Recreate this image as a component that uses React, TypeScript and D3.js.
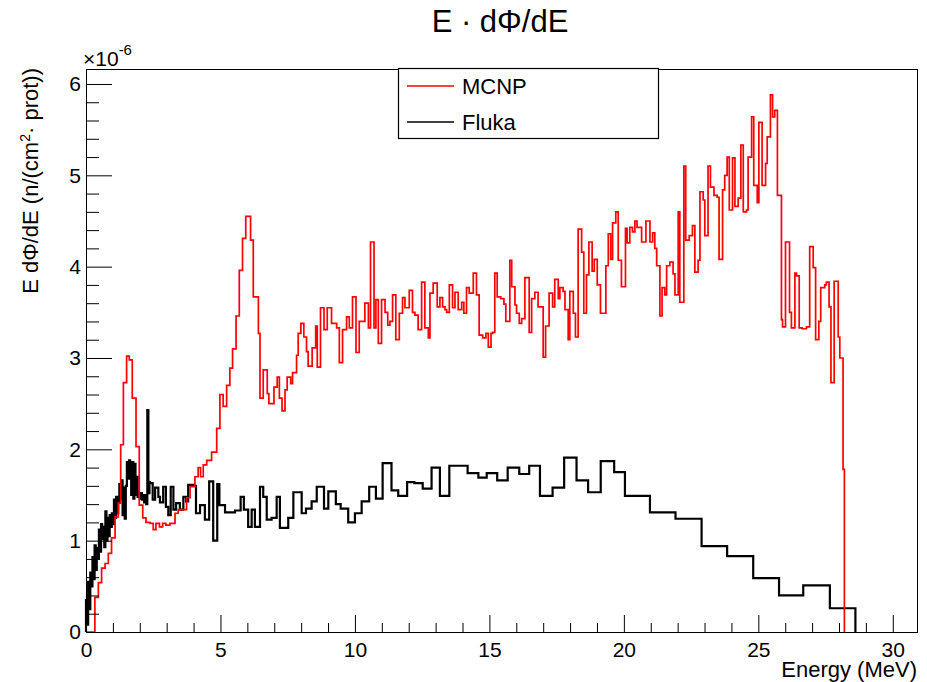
import React, { useEffect, useRef } from "react";
import * as d3 from "d3";

// [lower bin edge (MeV), E dPhi/dE (x1e-6 n/(cm2 prot))]
const mcnp: [number, number][] = [
    [0.00, 0], [0.33, 0.38], [0.46, 0.54], [0.58, 0.70], [0.71, 0.75], [0.83, 0.86], [0.95, 1.03], [1.08, 1.26],
    [1.20, 1.41], [1.29, 2.05], [1.39, 2.73], [1.51, 3.02], [1.61, 2.98], [1.72, 2.56], [1.86, 2.03], [1.98, 1.39],
    [2.11, 1.25], [2.23, 1.20], [2.38, 1.19], [2.50, 1.12], [2.60, 1.19], [2.73, 1.15], [2.85, 1.19], [2.97, 1.17],
    [3.12, 1.19], [3.31, 1.30], [3.43, 1.34], [3.74, 1.47], [3.87, 1.59], [4.05, 1.70], [4.17, 1.80], [4.26, 1.70],
    [4.36, 1.83], [4.49, 1.88], [4.67, 1.97], [4.86, 2.23], [4.98, 2.60], [5.10, 2.47], [5.23, 2.70], [5.35, 2.89],
    [5.45, 3.10], [5.58, 3.46], [5.70, 3.96], [5.82, 4.31], [5.94, 4.55], [6.12, 4.29], [6.22, 3.67], [6.41, 3.27],
    [6.47, 2.56], [6.59, 2.87], [6.74, 2.61], [6.80, 2.50], [6.99, 2.68], [7.11, 2.79], [7.19, 2.56], [7.29, 2.42],
    [7.40, 2.65], [7.48, 2.79], [7.61, 2.72], [7.68, 2.84], [7.83, 3.03], [7.89, 3.27], [7.99, 3.38], [8.10, 3.23],
    [8.20, 3.07], [8.26, 2.91], [8.41, 3.11], [8.54, 3.35], [8.60, 2.90], [8.72, 3.55], [8.85, 3.31], [8.97, 3.55],
    [9.13, 3.38], [9.32, 3.33], [9.42, 2.95], [9.54, 3.31], [9.69, 3.45], [9.79, 3.33], [9.91, 3.67], [10.04, 3.06],
    [10.16, 3.40], [10.37, 3.60], [10.50, 3.33], [10.58, 4.27], [10.71, 3.33], [10.78, 3.64], [10.87, 3.16], [10.99, 3.64],
    [11.12, 3.50], [11.22, 3.36], [11.30, 3.40], [11.40, 3.69], [11.52, 3.20], [11.65, 3.49], [11.77, 3.66], [11.86, 3.55],
    [12.02, 3.74], [12.14, 3.50], [12.23, 3.47], [12.35, 3.31], [12.48, 3.83], [12.60, 3.33], [12.73, 3.22], [12.79, 3.71],
    [12.91, 3.82], [13.06, 3.56], [13.16, 3.66], [13.26, 3.56], [13.35, 3.53], [13.41, 3.50], [13.51, 3.80], [13.63, 3.55],
    [13.72, 3.72], [13.84, 3.53], [13.97, 3.61], [14.05, 3.49], [14.15, 3.77], [14.25, 3.71], [14.40, 3.93], [14.52, 3.69],
    [14.62, 3.25], [14.75, 3.22], [14.87, 3.27], [14.96, 3.12], [15.06, 3.27], [15.12, 3.28], [15.20, 3.93], [15.29, 3.67],
    [15.42, 3.65], [15.54, 3.59], [15.61, 3.40], [15.76, 4.07], [15.83, 3.78], [15.95, 3.58], [16.01, 3.49], [16.11, 3.38],
    [16.20, 3.43], [16.32, 3.88], [16.48, 3.28], [16.57, 3.65], [16.69, 3.72], [16.81, 3.56], [17.00, 3.01], [17.09, 3.35],
    [17.22, 3.71], [17.35, 3.56], [17.43, 3.86], [17.56, 3.65], [17.62, 3.77], [17.74, 3.73], [17.81, 3.53], [17.93, 3.20],
    [17.99, 3.73], [18.12, 3.49], [18.20, 3.23], [18.30, 4.41], [18.43, 4.16], [18.51, 3.49], [18.61, 3.91], [18.70, 4.27],
    [18.82, 3.95], [18.90, 4.08], [19.01, 3.80], [19.13, 3.49], [19.33, 4.01], [19.42, 4.36], [19.51, 4.08], [19.58, 4.48],
    [19.70, 4.60], [19.79, 4.07], [19.91, 3.78], [20.06, 4.42], [20.12, 4.26], [20.22, 4.43], [20.32, 4.38], [20.41, 4.50],
    [20.49, 4.43], [20.66, 4.27], [20.82, 4.50], [20.97, 4.27], [21.07, 4.37], [21.15, 4.20], [21.22, 4.01], [21.34, 3.46],
    [21.42, 3.77], [21.52, 3.69], [21.59, 4.01], [21.71, 4.05], [21.83, 3.92], [21.90, 3.69], [22.02, 4.60], [22.08, 3.61],
    [22.23, 5.10], [22.30, 4.29], [22.43, 4.34], [22.55, 4.45], [22.64, 3.94], [22.76, 4.07], [22.83, 4.82], [22.95, 4.73],
    [23.01, 4.34], [23.13, 5.10], [23.22, 4.87], [23.35, 4.78], [23.47, 4.76], [23.54, 4.08], [23.67, 4.84], [23.75, 5.00],
    [23.84, 5.20], [23.92, 4.62], [24.04, 5.19], [24.13, 4.66], [24.25, 4.75], [24.35, 5.33], [24.44, 4.60], [24.56, 4.62],
    [24.62, 5.20], [24.75, 5.64], [24.83, 4.89], [24.96, 4.70], [25.02, 5.58], [25.14, 4.89], [25.27, 5.13], [25.33, 5.42],
    [25.45, 5.88], [25.53, 5.64], [25.61, 5.71], [25.71, 4.78], [25.86, 3.42], [25.90, 3.34], [26.01, 4.27], [26.16, 3.50],
    [26.23, 3.33], [26.36, 3.93], [26.42, 3.90], [26.52, 3.33], [26.63, 3.32], [26.79, 3.34], [26.91, 4.22], [27.04, 3.99],
    [27.13, 3.20], [27.25, 3.40], [27.32, 3.77], [27.47, 3.80], [27.53, 3.83], [27.63, 3.56], [27.70, 2.73], [27.82, 3.84],
    [27.97, 3.23], [28.03, 3.00], [28.15, 1.78]
];
const mcnpEnd = 28.2;

const fluka: [number, number][] = [
    [0.00, 0.35], [0.04, 0.08], [0.08, 0.55], [0.12, 0.25], [0.16, 0.65], [0.20, 0.50], [0.24, 0.82], [0.28, 0.58],
    [0.32, 0.95], [0.36, 0.68], [0.40, 0.92], [0.44, 0.80], [0.48, 1.12], [0.52, 0.88], [0.56, 1.18], [0.60, 1.02],
    [0.64, 1.15], [0.68, 0.93], [0.72, 1.32], [0.76, 1.00], [0.80, 1.25], [0.84, 1.05], [0.88, 1.28], [0.92, 1.15],
    [0.96, 1.30], [1.00, 1.18], [1.04, 1.45], [1.08, 1.25], [1.12, 1.48], [1.16, 1.30], [1.20, 1.42], [1.24, 1.62],
    [1.28, 1.46], [1.32, 1.66], [1.36, 1.28], [1.40, 1.58], [1.44, 1.24], [1.48, 1.60], [1.52, 1.86], [1.56, 1.68],
    [1.60, 1.88], [1.64, 1.70], [1.68, 1.50], [1.72, 1.86], [1.76, 1.46], [1.80, 1.84], [1.84, 1.50], [1.88, 1.70],
    [1.92, 1.48], [1.96, 1.52], [2.00, 1.46], [2.04, 1.52], [2.08, 1.45], [2.12, 1.50], [2.16, 1.42], [2.20, 1.50],
    [2.24, 1.40], [2.28, 2.43], [2.32, 1.52], [2.36, 1.64], [2.38, 1.63], [2.48, 1.45], [2.57, 1.58], [2.69, 1.48],
    [2.75, 1.42], [2.87, 1.59], [2.97, 1.37], [3.06, 1.28], [3.15, 1.59], [3.25, 1.34], [3.35, 1.41], [3.49, 1.34],
    [3.62, 1.48], [3.72, 1.43], [3.80, 1.61], [3.99, 1.60], [4.09, 1.30], [4.24, 1.39], [4.42, 1.23], [4.58, 1.65],
    [4.73, 1.00], [4.88, 1.62], [4.96, 1.39], [5.17, 1.31], [5.54, 1.33], [5.75, 1.48], [5.87, 1.34], [6.03, 1.15],
    [6.16, 1.34], [6.28, 1.15], [6.47, 1.59], [6.59, 1.48], [6.72, 1.23], [6.90, 1.25], [7.09, 1.48], [7.21, 1.14],
    [7.52, 1.25], [7.71, 1.53], [8.02, 1.30], [8.18, 1.35], [8.39, 1.43], [8.58, 1.59], [8.85, 1.35], [9.01, 1.54],
    [9.29, 1.40], [9.47, 1.35], [9.75, 1.20], [10.00, 1.30], [10.25, 1.43], [10.53, 1.59], [10.78, 1.46], [11.03, 1.85],
    [11.36, 1.55], [11.61, 1.49], [11.94, 1.64], [12.21, 1.63], [12.52, 1.57], [12.85, 1.80], [13.16, 1.49], [13.51, 1.82],
    [14.19, 1.74], [14.59, 1.69], [14.90, 1.74], [15.29, 1.66], [15.68, 1.80], [16.11, 1.73], [16.48, 1.82], [16.88, 1.49],
    [17.35, 1.58], [17.78, 1.91], [18.24, 1.66], [18.67, 1.53], [19.14, 1.87], [19.64, 1.75], [20.04, 1.49], [20.97, 1.31],
    [21.92, 1.24], [22.89, 0.94], [23.84, 0.83], [24.81, 0.59], [25.77, 0.40], [26.67, 0.51], [27.66, 0.26]
];
const flukaEnd = 28.61;

const xMajorTicks = [0, 5, 10, 15, 20, 25, 30];
const yMajorTicks = [0, 1, 2, 3, 4, 5, 6];
const seriesNames = ["MCNP", "Fluka"];
const seriesColors = ["#ff0000", "#000000"];

var W = 927, H = 682;
var left = 86, right = 917, top = 69, bottom = 632;
var font = "'Liberation Sans', Arial, Helvetica, sans-serif";

function App() {
    const ref = useRef<SVGSVGElement>(null);

    useEffect(() => {
        draw();
    }, []);

    return (
        <svg ref={ref} width={W} height={H}
            style={{ position: "absolute", left: 0, top: 0, background: "#fff" }}></svg>
    );

    function draw() {
        var svg = d3.select(ref.current);
        svg.selectAll("*").remove();
        svg.append("rect").attr("width", W).attr("height", H).attr("fill", "#fff");

        var x = d3.scaleLinear().domain([0, 30.9]).range([left, right]);
        var y = d3.scaleLinear().domain([0, 6.164]).range([bottom, top]);

        // frame
        svg.append("rect")
            .attr("x", left + 0.5).attr("y", top + 0.5)
            .attr("width", right - left).attr("height", bottom - top)
            .attr("fill", "none").attr("stroke", "#000").attr("stroke-width", 1);

        // histograms
        var line = d3.line<[number, number]>()
            .x(d => x(d[0]))
            .y(d => y(d[1]))
            .curve(d3.curveStepAfter);
        function histPoints(bins: [number, number][], end: number): [number, number][] {
            var pts: [number, number][] = [[bins[0][0], 0]];
            bins.forEach(b => pts.push(b));
            pts.push([end, 0]);
            return pts;
        }
        svg.append("path")
            .attr("d", line(histPoints(fluka, flukaEnd)))
            .attr("fill", "none").attr("stroke", seriesColors[1]).attr("stroke-width", 2.2);
        svg.append("path")
            .attr("d", line(histPoints(mcnp, mcnpEnd)))
            .attr("fill", "none").attr("stroke", seriesColors[0]).attr("stroke-width", 1.7);

        // x axis (ticks inside, ROOT style)
        var xMinor = d3.range(0, 31, 1).filter(v => xMajorTicks.indexOf(v) < 0);
        svg.append("g")
            .attr("transform", `translate(0,${bottom})`)
            .call(d3.axisBottom(x).tickValues(xMinor).tickSize(-9).tickSizeOuter(0).tickFormat(() => ""));
        var gx = svg.append("g")
            .attr("transform", `translate(0,${bottom})`)
            .call(d3.axisBottom(x).tickValues(xMajorTicks).tickSize(-17).tickSizeOuter(0).tickPadding(10).tickFormat(d3.format("d")));
        gx.selectAll("text").attr("font-size", 21).attr("font-family", font).attr("fill", "#000");

        // y axis
        var yMinor = d3.range(0, 31).map(v => v * 0.2).filter(v => Math.abs(v - Math.round(v)) > 0.01);
        svg.append("g")
            .attr("transform", `translate(${left},0)`)
            .call(d3.axisLeft(y).tickValues(yMinor).tickSize(-13).tickSizeOuter(0).tickFormat(() => ""));
        var gy = svg.append("g")
            .attr("transform", `translate(${left},0)`)
            .call(d3.axisLeft(y).tickValues(yMajorTicks).tickSize(-26).tickSizeOuter(0).tickPadding(5).tickFormat(d3.format("d")));
        gy.selectAll("text").attr("font-size", 21).attr("font-family", font).attr("fill", "#000");
        svg.selectAll(".domain").attr("stroke", "#000");
        svg.selectAll(".tick line").attr("stroke", "#000");

        // exponent label
        var ex = svg.append("text").attr("x", 83).attr("y", 66)
            .attr("font-family", font).attr("font-size", 21).attr("fill", "#000");
        ex.append("tspan").text("\u00d710");
        ex.append("tspan").attr("dy", -11).attr("font-size", 15).text("-6");

        // title
        svg.append("text").attr("x", 500).attr("y", 32)
            .attr("text-anchor", "middle").attr("font-family", font).attr("font-size", 31)
            .attr("fill", "#000").text("E \u00b7 d\u03a6/dE");

        // axis titles
        svg.append("text").attr("x", right).attr("y", 677)
            .attr("text-anchor", "end").attr("font-family", font).attr("font-size", 22)
            .attr("fill", "#000").text("Energy (MeV)");
        var yt = svg.append("text")
            .attr("transform", `translate(38,${top - 1}) rotate(-90)`)
            .attr("text-anchor", "end").attr("font-family", font).attr("font-size", 22).attr("fill", "#000");
        yt.append("tspan").text("E d\u03a6/dE (n/(cm");
        yt.append("tspan").attr("dy", -8).attr("font-size", 14).text("2");
        yt.append("tspan").attr("dy", 8).text("\u00b7 prot))");

        // legend
        var lg = svg.append("g");
        lg.append("rect").attr("x", 398.5).attr("y", 68.5).attr("width", 260).attr("height", 70)
            .attr("fill", "#fff").attr("stroke", "#000").attr("stroke-width", 1.2);
        seriesNames.forEach((name, i) => {
            var ly = 86 + i * 36;
            lg.append("line").attr("x1", 407).attr("x2", 454).attr("y1", ly).attr("y2", ly)
                .attr("stroke", seriesColors[i]).attr("stroke-width", 1.5);
            lg.append("text").attr("x", 462).attr("y", ly + 8)
                .attr("font-family", font).attr("font-size", 22).attr("fill", "#000").text(name);
        });
    }
}

export default App;
